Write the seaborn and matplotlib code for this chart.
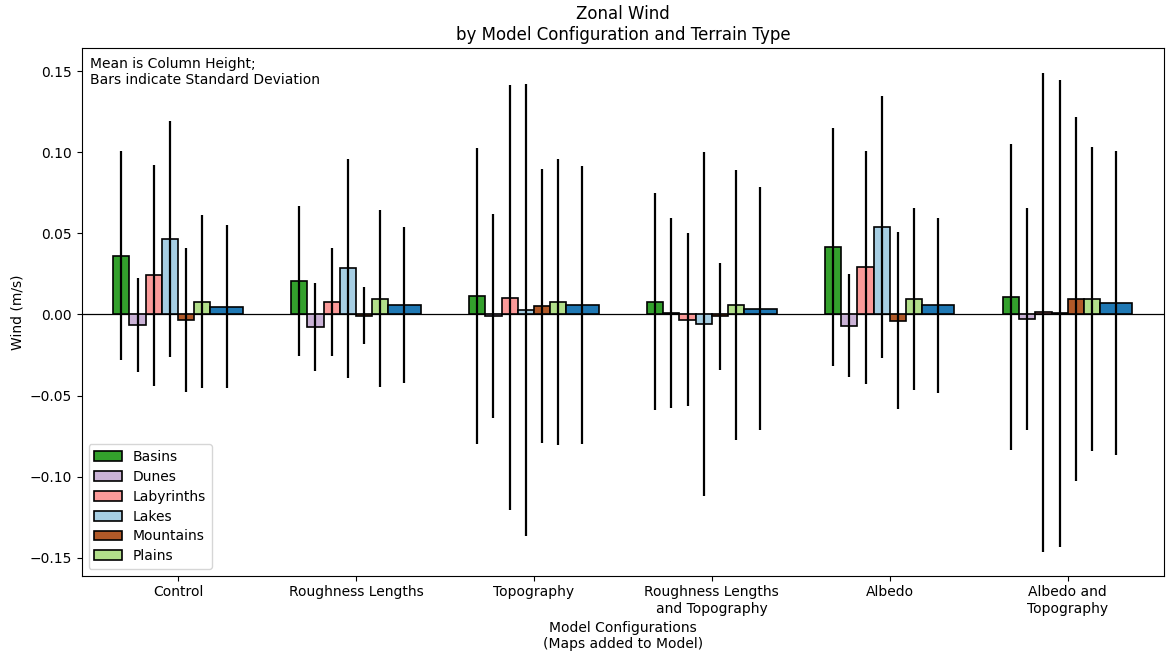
import matplotlib
matplotlib.use("Agg")
import matplotlib.pyplot as plt
from matplotlib.patches import Patch
import numpy as np
import pandas as pd
import seaborn as sns

# Model configurations (x groups)
configs = [
    "Control",
    "Roughness Lengths",
    "Topography",
    "Roughness Lengths\nand Topography",
    "Albedo",
    "Albedo and\nTopography",
]
terrains = ["Basins", "Dunes", "Labyrinths", "Lakes", "Mountains", "Plains"]

# Mean zonal wind (m/s) per terrain, one value per configuration
basins_mean = [0.0362, 0.0206, 0.0114, 0.0079, 0.0415, 0.0105]
dunes_mean = [-0.0065, -0.0079, -0.0010, 0.0009, -0.0069, -0.0030]
labyrinths_mean = [0.0241, 0.0077, 0.0104, -0.0032, 0.0291, 0.0012]
lakes_mean = [0.0465, 0.0285, 0.0028, -0.0061, 0.0539, 0.0006]
mountains_mean = [-0.0034, -0.0008, 0.0051, -0.0012, -0.0038, 0.0095]
plains_mean = [0.0079, 0.0098, 0.0075, 0.0059, 0.0094, 0.0095]
all_mean = [0.0048, 0.0057, 0.0057, 0.0036, 0.0057, 0.0070]

# Standard deviations
basins_std = [0.0645, 0.0465, 0.0910, 0.0668, 0.0734, 0.0943]
dunes_std = [0.0290, 0.0270, 0.0630, 0.0587, 0.0319, 0.0685]
labyrinths_std = [0.0680, 0.0335, 0.1310, 0.0533, 0.0717, 0.1476]
lakes_std = [0.0728, 0.0675, 0.1395, 0.1060, 0.0808, 0.1437]
mountains_std = [0.0442, 0.0175, 0.0844, 0.0330, 0.0544, 0.1120]
plains_std = [0.0535, 0.0545, 0.0880, 0.0830, 0.0562, 0.0935]
all_std = [0.0503, 0.0480, 0.0855, 0.0750, 0.0540, 0.0937]

means = [basins_mean, dunes_mean, labyrinths_mean, lakes_mean, mountains_mean, plains_mean]
stds = [basins_std, dunes_std, labyrinths_std, lakes_std, mountains_std, plains_std]

sns.set_style("ticks", rc={
    "axes.edgecolor": "black",
    "text.color": "black",
    "axes.labelcolor": "black",
    "xtick.color": "black",
    "ytick.color": "black",
    "xtick.direction": "out",
    "ytick.direction": "out",
})
plt.rcParams["font.family"] = ["DejaVu Sans"]
plt.rcParams["font.size"] = 10

paired = sns.color_palette("Paired")
terrain_colors = [paired[3], paired[8], paired[4], paired[0], paired[11], paired[2]]
all_color = paired[1]

slot = 1 / 11  # width of one bar
group_idx = np.arange(len(configs))

# long-form table for the per-terrain bars
rows = []
for t, m_list, s_list in zip(terrains, means, stds):
    for k, (m, s) in enumerate(zip(m_list, s_list)):
        rows.append({"pos": k - slot, "config": configs[k], "terrain": t, "wind": m, "std": s})
df = pd.DataFrame(rows)

fig, ax = plt.subplots(figsize=(11.66, 6.54), dpi=100)
fig.subplots_adjust(left=81.7 / 1166, right=1164 / 1166, top=1 - 48.3 / 654, bottom=1 - 575.7 / 654)

ax.axhline(0, color="black", lw=0.9, zorder=1)

sns.barplot(
    data=df, x="pos", y="wind", hue="terrain", hue_order=terrains,
    palette=terrain_colors, saturation=1, native_scale=True, orient="x",
    width=6 * slot, errorbar=None, edgecolor="black", linewidth=1.2,
    legend=False, ax=ax, zorder=2,
)

# aggregate bar over all terrains, twice as wide
ax.bar(group_idx + 3 * slot, all_mean, width=2 * slot, color=all_color,
       edgecolor="black", linewidth=1.2, zorder=2)

# standard deviation bars
for i, (m_list, s_list) in enumerate(zip(means, stds)):
    ax.errorbar(group_idx + (i - 3.5) * slot, m_list, yerr=s_list, fmt="none",
                ecolor="black", elinewidth=1.6, capsize=0, zorder=3)
ax.errorbar(group_idx + 3 * slot, all_mean, yerr=all_std, fmt="none",
            ecolor="black", elinewidth=1.6, capsize=0, zorder=3)

ax.set_xlim(-0.541, 5.541)
ax.set_ylim(-0.161, 0.164)
ax.set_xticks(group_idx)
ax.set_xticklabels(configs, fontsize=10)
ax.set_yticks([-0.15, -0.10, -0.05, 0.0, 0.05, 0.10, 0.15])
ax.set_yticklabels(["\u22120.15", "\u22120.10", "\u22120.05", "0.00", "0.05", "0.10", "0.15"], fontsize=10)
for side in ["top", "right", "left", "bottom"]:
    ax.spines[side].set_visible(True)
    ax.spines[side].set_color("black")

ax.set_xlabel("Model Configurations\n(Maps added to Model)", fontsize=10)
ax.set_ylabel("Wind (m/s)", fontsize=10)
ax.set_title("Zonal Wind\nby Model Configuration and Terrain Type", fontsize=12)

ax.text(0.0077, 0.983, "Mean is Column Height;\nBars indicate Standard Deviation",
        transform=ax.transAxes, ha="left", va="top", fontsize=10)

handles = [Patch(facecolor=c, edgecolor="black", linewidth=1.2, label=t)
           for t, c in zip(terrains, terrain_colors)]
ax.legend(handles=handles, loc="lower left", fontsize=10, frameon=True,
          edgecolor="#cccccc", fancybox=True, framealpha=0.8, labelspacing=0.42)

fig.savefig("out.png", dpi=100)
